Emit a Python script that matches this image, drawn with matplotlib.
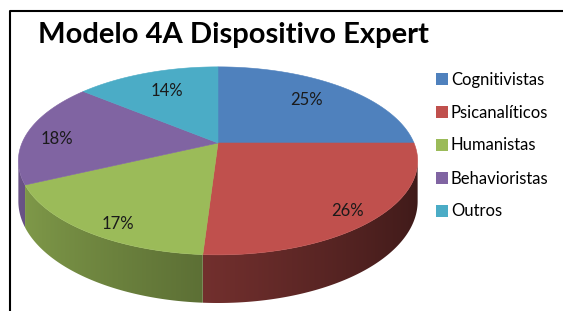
import numpy as np
import matplotlib
matplotlib.use("Agg")
import matplotlib.pyplot as plt
from matplotlib.patches import Polygon, Patch
from matplotlib.lines import Line2D
from matplotlib.colors import to_rgb

plt.rcParams['font.family'] = ['Lato', 'DejaVu Sans']

title = "Modelo 4A Dispositivo Expert"
categories = ["Cognitivistas", "Psicanalíticos", "Humanistas", "Behavioristas", "Outros"]
values = [25, 26, 17, 18, 14]
labels = ["25%", "26%", "17%", "18%", "14%"]

# styles
colors = ["#4F81BD", "#C0504D", "#9BBB59", "#8064A2", "#4BACC6"]
label_r = [0.72, 0.85, 0.85, 0.85, 0.72]
label_nudge = [(-2, -1), (0, 4), (8, 7), (1, 5), (2, 1)]

W, H = 563, 311
fig = plt.figure(figsize=(W / 100, H / 100), dpi=100)
ax = fig.add_axes([0, 0, 1, 1])

cx, cy = 218, 143
A, B = 196, 90.6
k = 0.19
depth = 39


def proj(r, th):
    th = np.asarray(th, dtype=float)
    x = r * np.cos(th)
    y = r * np.sin(th)
    w = 1 + k * y
    return cx + A * x / w, cy - B * y / w


def drop(th):
    return depth / (1 + k * np.sin(th))


def shade(th):
    return 0.58 - 0.26 * np.cos(th)


fr = np.array(values, dtype=float) / np.sum(values)
starts = np.pi / 2 - 2 * np.pi * np.concatenate([[0], np.cumsum(fr)[:-1]])
ends = starts - 2 * np.pi * fr

# visible front range of the side wall
thL = -np.pi + np.arcsin(k)
thR = -np.arcsin(k)
th_grid = np.linspace(thL, thR, 2000)
x_grid, _ = proj(1, th_grid)


def wrap_range(a, b):
    for off in (0, -2 * np.pi, 2 * np.pi):
        lo, hi = b + off, a + off
        lo2, hi2 = max(lo, thL), min(hi, thR)
        if hi2 > lo2:
            return lo2, hi2
    return None


for i in range(len(values)):
    rng = wrap_range(starts[i], ends[i])
    if rng is None:
        continue
    lo, hi = rng
    ts = np.linspace(lo, hi, 300)
    tx, ty = proj(1, ts)
    by = ty + drop(ts)
    pts = list(zip(tx, ty)) + list(zip(tx[::-1], by[::-1]))
    poly = Polygon(pts, closed=True, facecolor='none', edgecolor='none')
    ax.add_patch(poly)
    x0, x1 = tx.min(), tx.max()
    y0, y1 = ty.min(), by.max()
    cols = np.linspace(x0, x1, 400)
    th_c = np.interp(cols, x_grid, th_grid)
    base = np.array(to_rgb(colors[i]))
    img = np.clip(base[None, :] * shade(th_c)[:, None], 0, 1)[None, :, :]
    im = ax.imshow(img, extent=(x0, x1, y1, y0), aspect='auto', interpolation='bilinear',
                   origin='upper', zorder=1)
    im.set_clip_path(poly)

# top faces
for i in range(len(values)):
    ts = np.linspace(starts[i], ends[i], 200)
    px, py = proj(1, ts)
    pts = [(cx, cy)] + list(zip(px, py))
    ax.add_patch(Polygon(pts, closed=True, facecolor=colors[i], edgecolor=colors[i],
                         lw=0.4, zorder=2))

# labels
for i in range(len(values)):
    tm = 0.5 * (starts[i] + ends[i])
    px, py = proj(label_r[i], tm)
    dx, dy = label_nudge[i]
    ax.text(px + dx, py + dy, labels[i], ha='center', va='center', fontsize=12,
            color='#1a1a1a', zorder=3)

# title
ax.text(38, 42.7, title, fontsize=21, fontweight='bold', ha='left', va='baseline',
        color='black', zorder=3)

# border
ax.add_line(Line2D([10, 10, W], [H, 10.5, 10.5], color='black', lw=1.5, zorder=3))

handles = [Patch(facecolor=c, edgecolor='none') for c in colors]
ax.legend(handles, categories, loc='upper left', bbox_to_anchor=(436 / W, 1 - 71.5 / H),
          frameon=False, fontsize=12, handlelength=0.7, handleheight=0.7,
          handletextpad=0.2, labelspacing=1.02, borderaxespad=0, borderpad=0)

ax.set_xlim(0, W)
ax.set_ylim(H, 0)
ax.axis('off')

fig.savefig("out.png", dpi=100)
